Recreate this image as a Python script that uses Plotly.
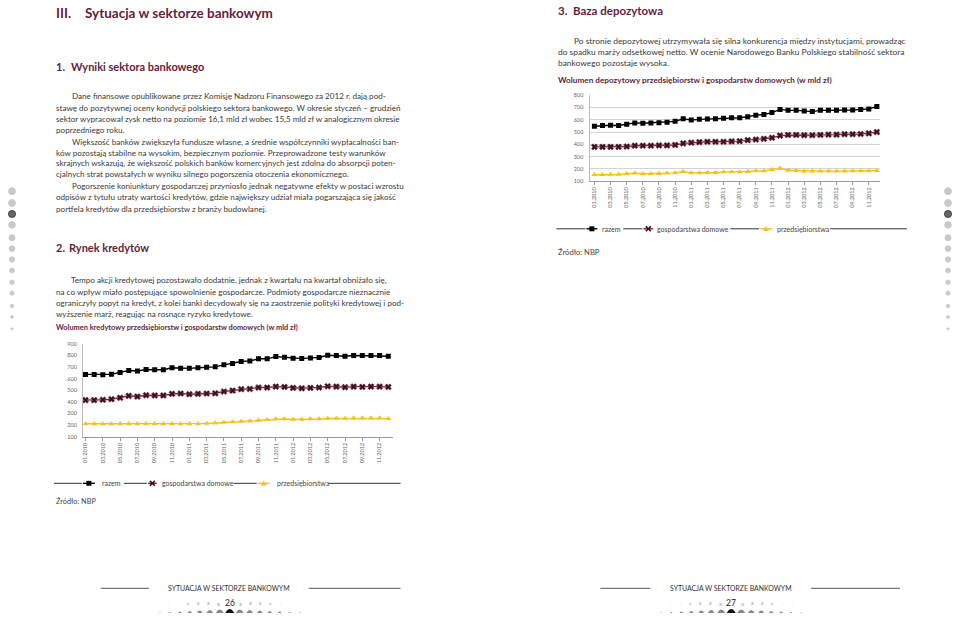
import plotly.graph_objects as go

W, H = 960, 623

# ---------------- data ----------------
months = ["01.2010", "02.2010", "03.2010", "04.2010", "05.2010", "06.2010",
          "07.2010", "08.2010", "09.2010", "10.2010", "11.2010", "12.2010",
          "01.2011", "02.2011", "03.2011", "04.2011", "05.2011", "06.2011",
          "07.2011", "08.2011", "09.2011", "10.2011", "11.2011", "12.2011",
          "01.2012", "02.2012", "03.2012", "04.2012", "05.2012", "06.2012",
          "07.2012", "08.2012", "09.2012", "10.2012", "11.2012", "12.2012"]
tick_labels = ["01.2010", "03.2010", "05.2010", "07.2010", "09.2010", "11.2010",
               "01.2011", "03.2011", "05.2011", "07.2011", "09.2011", "11.2011",
               "01.2012", "03.2012", "05.2012", "07.2012", "09.2012", "11.2012"]
series_names = ["razem", "gospodarstwa domowe", "przedsiębiorstwa"]

# Wolumen kredytowy (mld zł)
kred_razem = [636, 636, 633, 637, 653, 670, 665, 678, 676, 676, 693, 690,
              688, 693, 698, 701, 718, 730, 747, 752, 770, 770, 789, 784,
              775, 772, 778, 781, 800, 798, 792, 798, 798, 798, 798, 792]
kred_gosp = [415, 415, 418, 423, 435, 452, 446, 457, 455, 455, 469, 472,
             466, 469, 472, 474, 489, 497, 509, 511, 523, 523, 531, 528,
             520, 517, 520, 523, 534, 531, 526, 531, 528, 531, 531, 528]
kred_przeds = [212, 212, 210, 210, 212, 212, 212, 212, 212, 212, 212, 210,
               212, 212, 215, 218, 223, 228, 232, 235, 242, 247, 253, 253,
               250, 250, 253, 253, 258, 258, 258, 261, 261, 261, 261, 256]

# Wolumen depozytowy (mld zł)
dep_razem = [547, 553, 555, 553, 563, 574, 571, 574, 576, 579, 587, 608,
             597, 603, 605, 608, 611, 616, 616, 624, 637, 642, 658, 684,
             676, 676, 671, 666, 676, 676, 676, 679, 679, 684, 687, 708]
dep_gosp = [379, 379, 379, 379, 382, 389, 389, 389, 392, 392, 395, 408,
            413, 418, 421, 421, 421, 424, 426, 434, 439, 445, 453, 471,
            476, 476, 474, 474, 476, 479, 479, 482, 482, 484, 489, 500]
dep_przeds = [153, 153, 155, 155, 161, 166, 161, 161, 163, 166, 168, 179,
              168, 168, 171, 171, 176, 176, 176, 179, 184, 184, 195, 205,
              189, 187, 182, 182, 182, 182, 182, 182, 184, 184, 184, 187]

# ---------------- styles ----------------
MAROON = "#651d3d"
TEXT = "#3a3a3a"
FONT = "Lato"
C_RAZEM = "#000000"
C_GOSP_LINE = "#7a2a45"
C_GOSP_MK = "#3a0f20"
C_PRZ = "#f5c21a"


def px(x):
    return x / W


def py(y):
    return 1 - y / H


fig = go.Figure()

styles = [
    dict(line=dict(color=C_RAZEM, width=1.4),
         marker=dict(symbol="square", size=5, color=C_RAZEM)),
    dict(line=dict(color=C_GOSP_LINE, width=1.4),
         marker=dict(symbol="x", size=5.5, color=C_GOSP_MK,
                     line=dict(color=C_GOSP_LINE, width=0.5))),
    dict(line=dict(color=C_PRZ, width=1.4),
         marker=dict(symbol="triangle-up", size=5.5, color=C_PRZ)),
]

for name, vals, st in zip(series_names, [kred_razem, kred_gosp, kred_przeds], styles):
    fig.add_trace(go.Scatter(x=months, y=vals, name=name, mode="lines+markers",
                             xaxis="x", yaxis="y", showlegend=False, **st))
for name, vals, st in zip(series_names, [dep_razem, dep_gosp, dep_przeds], styles):
    fig.add_trace(go.Scatter(x=months, y=vals, name=name, mode="lines+markers",
                             xaxis="x2", yaxis="y2", showlegend=False, **st))

axis_common = dict(tickfont=dict(family=FONT, size=5.5, color="#666"),
                   zeroline=False, fixedrange=True)

fig.update_layout(
    width=W, height=H,
    margin=dict(l=0, r=0, t=0, b=0),
    paper_bgcolor="white", plot_bgcolor="white",
    showlegend=False,
    xaxis=dict(domain=[px(82), px(392)], anchor="y", type="category",
               categoryorder="array", categoryarray=months,
               range=[-0.3, 35.5], tickmode="array", tickvals=tick_labels,
               ticktext=tick_labels, tickangle=-90, ticks="outside", ticklen=3,
               tickcolor="#999", showline=True, linecolor="#999", linewidth=0.8,
               showgrid=False, **axis_common),
    yaxis=dict(domain=[py(438), py(344)], anchor="x", range=[100, 900],
               dtick=100, showline=True, linecolor="#bbb", linewidth=0.8,
               showgrid=False, ticks="", ticklabelstandoff=4, **axis_common),
    xaxis2=dict(domain=[px(590), px(880)], anchor="y2", type="category",
                categoryorder="array", categoryarray=months,
                range=[-0.5, 35.4], tickmode="array", tickvals=tick_labels,
                ticktext=tick_labels, tickangle=-90, ticks="outside", ticklen=3,
                tickcolor="#999", showline=True, linecolor="#999", linewidth=0.8,
                showgrid=False, **axis_common),
    yaxis2=dict(domain=[py(180), py(93)], anchor="x2", range=[100, 800],
                dtick=100, showline=True, linecolor="#bbb", linewidth=0.8,
                showgrid=True, gridcolor="#d4d4d4", gridwidth=0.8, ticks="",
                ticklabelstandoff=5, **axis_common),
)

annotations = []
shapes = []


def text(x, y, s, size, color=TEXT, bold=False, anchor="left"):
    annotations.append(dict(
        x=px(x), y=py(y), xref="paper", yref="paper", text=s,
        showarrow=False, xanchor=anchor, yanchor="middle",
        font=dict(family=FONT, size=size, color=color,
                  weight="bold" if bold else "normal")))


def hline(x0, x1, y, color="#333", width=1):
    shapes.append(dict(type="line", xref="paper", yref="paper",
                       x0=px(x0), x1=px(x1), y0=py(y), y1=py(y),
                       line=dict(color=color, width=width)))


# ---------------- headings ----------------
text(53, 10, "III.", 13.5, MAROON, True)
text(82, 10, "Sytuacja w sektorze bankowym", 13.5, MAROON, True)
text(53, 64, "1.", 11, MAROON, True)
text(68, 64, "Wyniki sektora bankowego", 11, MAROON, True)
text(53, 247, "2.", 11, MAROON, True)
text(66, 247, "Rynek kredytów", 11, MAROON, True)
text(556, 8, "3.", 11.5, MAROON, True)
text(571, 8, "Baza depozytowa", 11.5, MAROON, True)

# ---------------- paragraphs ----------------
para1 = [
    (69, 94, "Dane finansowe opublikowane przez Komisję Nadzoru Finansowego za 2012 r. dają pod-"),
    (53, 106, "stawę do pozytywnej oceny kondycji polskiego sektora bankowego. W okresie styczeń – grudzień"),
    (53, 117, "sektor wypracował zysk netto na poziomie 16,1 mld zł wobec 15,5 mld zł w analogicznym okresie"),
    (53, 128, "poprzedniego roku."),
    (69, 140, "Większość banków zwiększyła fundusze własne, a średnie współczynniki wypłacalności ban-"),
    (53, 151, "ków pozostają stabilne na wysokim, bezpiecznym poziomie. Przeprowadzone testy warunków"),
    (53, 162, "skrajnych wskazują, że większość polskich banków komercyjnych jest zdolna do absorpcji poten-"),
    (53, 173, "cjalnych strat powstałych w wyniku silnego pogorszenia otoczenia ekonomicznego."),
    (69, 185, "Pogorszenie koniunktury gospodarczej przyniosło jednak negatywne efekty w postaci wzrostu"),
    (53, 196, "odpisów z tytułu utraty wartości kredytów, gdzie największy udział miała pogarszająca się jakość"),
    (53, 208, "portfela kredytów dla przedsiębiorstw z branży budowlanej."),
]
for x, y, s in para1:
    text(x, y, s, 8.1)

para2 = [
    (68, 280, "Tempo akcji kredytowej pozostawało dodatnie, jednak z kwartału na kwartał obniżało się,"),
    (53, 292, "na co wpływ miało postępujące spowolnienie gospodarcze. Podmioty gospodarcze nieznacznie"),
    (53, 303, "ograniczyły popyt na kredyt, z kolei banki decydowały się na zaostrzenie polityki kredytowej i pod-"),
    (53, 314, "wyższenie marż, reagując na rosnące ryzyko kredytowe."),
]
for x, y, s in para2:
    text(x, y, s, 8.1)

para3 = [
    (572, 38, "Po stronie depozytowej utrzymywała się silna konkurencja między instytucjami, prowadząc"),
    (556, 49, "do spadku marży odsetkowej netto. W ocenie Narodowego Banku Polskiego stabilność sektora"),
    (556, 61, "bankowego pozostaje wysoka."),
]
for x, y, s in para3:
    text(x, y, s, 8.4)

text(53, 328, "Wolumen kredytowy przedsiębiorstw i gospodarstw domowych (w mld zł)", 7.4, MAROON, True)
text(556, 78, "Wolumen depozytowy przedsiębiorstw i gospodarstw domowych (w mld zł)", 8.2, MAROON, True)

text(53, 503, "Źródło: NBP", 7.3, "#444")
text(556, 251, "Źródło: NBP", 7.6, "#444")


# ---------------- legends (drawn manually) ----------------
def legend(y, segs, items):
    for x0, x1 in segs:
        hline(x0, x1, y, "#333", 1)
    for kind, sx0, sx1, tx, label in items:
        cx = (sx0 + sx1) / 2
        if kind == "square":
            hline(sx0, sx1, y, C_RAZEM, 1.4)
            shapes.append(dict(type="rect", xref="paper", yref="paper",
                               x0=px(cx - 2.5), x1=px(cx + 2.5),
                               y0=py(y + 2.5), y1=py(y - 2.5),
                               fillcolor=C_RAZEM, line=dict(width=0)))
        elif kind == "x":
            hline(sx0, sx1, y, C_GOSP_LINE, 1.4)
            path = (f"M{px(cx-2.5)},{py(y-2.5)} L{px(cx+2.5)},{py(y+2.5)} "
                    f"M{px(cx-2.5)},{py(y+2.5)} L{px(cx+2.5)},{py(y-2.5)}")
            shapes.append(dict(type="path", xref="paper", yref="paper", path=path,
                               line=dict(color=C_GOSP_MK, width=1.6)))
        else:
            hline(sx0, sx1, y, C_PRZ, 1.4)
            path = (f"M{px(cx-3)},{py(y+2.2)} L{px(cx+3)},{py(y+2.2)} "
                    f"L{px(cx)},{py(y-2.8)} Z")
            shapes.append(dict(type="path", xref="paper", yref="paper", path=path,
                               fillcolor=C_PRZ, line=dict(width=0)))
        text(tx, y, label, 7.0, "#444")


legend(485, [(53, 81), (123, 146), (233, 256), (328, 400)],
       [("square", 82, 94, 99, series_names[0]),
        ("x", 147, 156, 159, series_names[1]),
        ("tri", 257, 269, 274, series_names[2])])
legend(228, [(556, 585), (623, 642), (730, 759), (830, 907)],
       [("square", 586, 597, 600, series_names[0]),
        ("x", 643, 653, 655, series_names[1]),
        ("tri", 760, 772, 775, series_names[2])])

# ---------------- footers ----------------
for (l0, l1, tc, r0, r1, pc, num) in [(100, 148, 228, 308, 400, 229, "26"),
                                      (600, 650, 731, 811, 900, 731, "27")]:
    hline(l0, l1, 591, "#555", 1)
    hline(r0, r1, 591, "#555", 1)
    text(tc, 591, "SYTUACJA W SEKTORZE BANKOWYM", 6.9, "#333", anchor="center")
    text(pc, 606, num, 8.5, "#222", anchor="center")
    for k in range(1, 8):
        for sgn in (-1, 1):
            xx = pc + sgn * (k * 10 + 1)
            sz = max(3.0, 6.5 - 0.5 * k)
            text(xx, 606, "x" if k <= 4 else "·", sz, "#999", anchor="center")
    for k in range(0, 8):
        for sgn in ((-1, 1) if k else (1,)):
            xx = pc + sgn * k * 10
            w = max(0.8, 4.5 - 0.55 * k)
            h = max(0.8, 4.0 - 0.5 * k)
            col = "#111" if k == 0 else "#888"
            path = (f"M{px(xx-w)},{py(616)} Q{px(xx)},{py(616-2*h)} {px(xx+w)},{py(616)} Z")
            shapes.append(dict(type="path", xref="paper", yref="paper", path=path,
                               fillcolor=col, line=dict(width=0)))

# ---------------- side dots ----------------
dot_y = [190, 202, 213, 224, 237, 248, 259, 270, 282, 293, 306, 317, 329]
dot_r = [3.5, 3.5, 3.6, 3.4, 3.1, 2.9, 2.7, 2.5, 2.3, 2.1, 1.8, 1.5, 1.2]
for cx in (11, 948):
    for i, (yy, r) in enumerate(zip(dot_y, dot_r)):
        dark = (i == 2)
        shapes.append(dict(type="circle", xref="paper", yref="paper",
                           x0=px(cx - r), x1=px(cx + r), y0=py(yy + r), y1=py(yy - r),
                           fillcolor="#666" if dark else "#c9c9c9",
                           line=dict(color="#333" if dark else "#c9c9c9", width=0.8)))

fig.update_layout(annotations=annotations, shapes=shapes)
fig.write_html("out.html", config={"displayModeBar": False})

# remove the browser's default page margin so the figure sits at (0, 0)
with open("out.html", encoding="utf-8") as f:
    html = f.read()
html = html.replace("<body>", '<body style="margin:0;padding:0;overflow:hidden">', 1)
with open("out.html", "w", encoding="utf-8") as f:
    f.write(html)
